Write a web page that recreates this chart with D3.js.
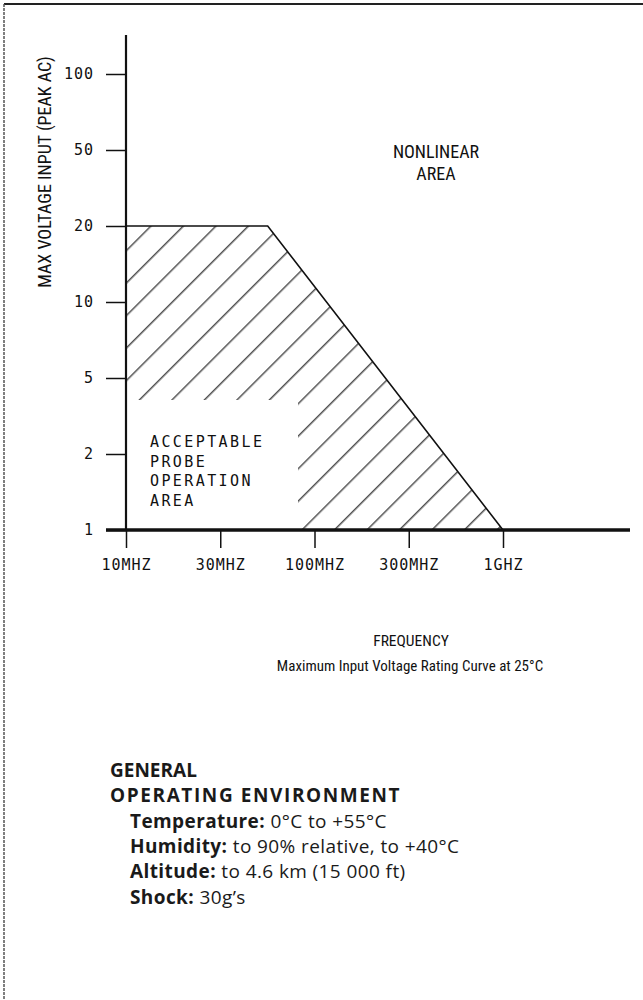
<!DOCTYPE html>
<html>
<head>
<meta charset="utf-8">
<script src="https://cdn.jsdelivr.net/npm/d3@7/dist/d3.min.js"></script>
<style>
  html, body { margin: 0; padding: 0; background: #fff; }
  svg { display: block; }
</style>
</head>
<body>
<svg id="chart" width="643" height="1000"></svg>
<script>
// ---------- data ----------
const freqTicks = [10, 30, 100, 300, 1000];                 // MHz
const freqLabels = ["10MHZ", "30MHZ", "100MHZ", "300MHZ", "1GHZ"];
const voltTicks = [1, 2, 5, 10, 20, 50, 100];
const voltLabels = ["1", "2", "5", "10", "20", "50", "100"];
const limitFreq = [10, 55, 1000];   // MHz
const limitVolt = [20, 20, 1];      // V peak AC
const yTitle = "MAX VOLTAGE INPUT (PEAK AC)";
const xTitle = "FREQUENCY";
const caption = "Maximum Input Voltage Rating Curve at 25\u00B0C";
const areaLabelUpper = ["NONLINEAR", "AREA"];
const areaLabelLower = ["ACCEPTABLE", "PROBE", "OPERATION", "AREA"];
const specHeads = ["GENERAL", "OPERATING ENVIRONMENT"];
const specKeys = ["Temperature:", "Humidity:", "Altitude:", "Shock:"];
const specVals = [" 0\u00B0C to +55\u00B0C", " to 90% relative, to +40\u00B0C", " to 4.6 km (15 000 ft)", " 30g\u2019s"];

// ---------- layout ----------
const svg = d3.select("#chart");
const X0 = 126, X1 = 503, Y0 = 530, Y1 = 74;
const plotFont = "'DejaVu Sans Mono', 'Liberation Mono', monospace";
const narrowFont = "'Liberation Sans Narrow', 'Roboto Condensed', 'Arial Narrow', sans-serif";
const specFont = "'Open Sans', Lato, 'Noto Sans', sans-serif";

// equally spaced decade-style ticks -> piecewise log scale
const xIdx = d3.scaleLinear().domain([0, freqTicks.length - 1]).range([X0, X1]);
const xLog = d3.scaleLinear().domain(freqTicks.map(Math.log10)).range(freqTicks.map((d, i) => xIdx(i)));
const x = v => xLog(Math.log10(v));
const yIdx = d3.scaleLinear().domain([0, voltTicks.length - 1]).range([Y0, Y1]);
const yLog = d3.scaleLinear().domain(voltTicks.map(Math.log10)).range(voltTicks.map((d, i) => yIdx(i)));
const y = v => yLog(Math.log10(v));

// page border (top + left)
svg.append("line").attr("x1", 4).attr("x2", 643).attr("y1", 4).attr("y2", 4)
  .attr("stroke", "#222").attr("stroke-width", 2);
svg.append("line").attr("x1", 4).attr("x2", 4).attr("y1", 4).attr("y2", 1000)
  .attr("stroke", "#555").attr("stroke-width", 1.5).attr("stroke-dasharray", "3,1");

// hatch pattern
const defs = svg.append("defs");
const pat = defs.append("pattern").attr("id", "hatch")
  .attr("patternUnits", "userSpaceOnUse").attr("width", 22.98).attr("height", 10)
  .attr("patternTransform", "rotate(45)");
pat.append("line").attr("x1", 13.8).attr("x2", 13.8).attr("y1", -1).attr("y2", 11)
  .attr("stroke", "#111").attr("stroke-width", 1.1);

const mask = defs.append("mask").attr("id", "labelHole");
mask.append("rect").attr("x", 0).attr("y", 0).attr("width", 643).attr("height", 1000).attr("fill", "#fff");
mask.append("rect").attr("x", x(10)).attr("y", 400).attr("width", 298 - x(10)).attr("height", Y0 - 400).attr("fill", "#000");

// acceptable area polygon
const areaPts = [[limitFreq[0], 1]].concat(limitFreq.map((f, i) => [f, limitVolt[i]]));
const poly = areaPts.map(d => [x(d[0]), y(d[1])]);
svg.append("path")
  .attr("d", d3.line()(poly) + "Z")
  .attr("fill", "url(#hatch)").attr("stroke", "none").attr("mask", "url(#labelHole)");

// limit curve
svg.append("path")
  .attr("d", d3.line().x(d => x(d[0])).y(d => y(d[1]))(limitFreq.map((f, i) => [f, limitVolt[i]])))
  .attr("fill", "none").attr("stroke", "#111").attr("stroke-width", 1.6);

// axes
const yAxis = d3.axisLeft(yLog)
  .tickValues(voltTicks.map(Math.log10))
  .tickFormat((d, i) => voltLabels[i])
  .tickSize(20).tickPadding(12);
const gy = svg.append("g").attr("transform", `translate(${X0},0)`).call(yAxis);
gy.select(".domain").remove();
gy.selectAll(".tick line").attr("stroke", "#111").attr("stroke-width", 1.5);
gy.selectAll(".tick text").attr("font-family", plotFont).attr("font-size", 15)
  .attr("letter-spacing", 1).attr("fill", "#111");

const xAxis = d3.axisBottom(xLog)
  .tickValues(freqTicks.map(Math.log10))
  .tickFormat((d, i) => freqLabels[i])
  .tickSize(18).tickPadding(11);
const gx = svg.append("g").attr("transform", `translate(0,${Y0})`).call(xAxis);
gx.select(".domain").remove();
gx.selectAll(".tick line").attr("stroke", "#111").attr("stroke-width", 1.5);
gx.selectAll(".tick text").attr("font-family", plotFont).attr("font-size", 15)
  .attr("letter-spacing", 1).attr("fill", "#111");

// axis lines
svg.append("line").attr("x1", X0).attr("x2", X0).attr("y1", 35).attr("y2", Y0)
  .attr("stroke", "#111").attr("stroke-width", 2.2);
svg.append("line").attr("x1", 106).attr("x2", 630).attr("y1", Y0).attr("y2", Y0)
  .attr("stroke", "#111").attr("stroke-width", 3.5);

// y title
svg.append("text")
  .attr("transform", "translate(51,172) rotate(-90)")
  .attr("text-anchor", "middle")
  .attr("font-family", narrowFont).attr("font-size", 18).attr("fill", "#111")
  .text(yTitle);

// area labels
const up = svg.append("text").attr("font-family", narrowFont).attr("font-size", 18)
  .attr("fill", "#111").attr("text-anchor", "middle");
areaLabelUpper.forEach((t, i) => up.append("tspan").attr("x", 436).attr("y", 158 + i * 22).text(t));

const low = svg.append("text").attr("font-family", plotFont).attr("font-size", 15)
  .attr("letter-spacing", 2.4).attr("fill", "#111");
areaLabelLower.forEach((t, i) => low.append("tspan").attr("x", 150).attr("y", 447 + i * 19.5).text(t));

// x title & caption
svg.append("text").attr("x", 411).attr("y", 646).attr("text-anchor", "middle")
  .attr("font-family", narrowFont).attr("font-size", 15.5).attr("fill", "#111").text(xTitle);
svg.append("text").attr("x", 410).attr("y", 671).attr("text-anchor", "middle")
  .attr("font-family", narrowFont).attr("font-size", 15).attr("fill", "#111").text(caption);

// spec block
specHeads.forEach((t, i) => {
  svg.append("text").attr("x", 110).attr("y", 777 + i * 25)
    .attr("font-family", specFont).attr("font-weight", 700)
    .attr("font-size", 19).attr("letter-spacing", i === 0 ? 0 : 1.6)
    .attr("fill", "#1a1a1a").text(t);
});
specKeys.forEach((k, i) => {
  const t = svg.append("text").attr("x", 130).attr("y", 828 + i * 25.2)
    .attr("font-family", specFont).attr("font-size", 19).attr("letter-spacing", 0.4)
    .attr("fill", "#1a1a1a");
  t.append("tspan").attr("font-weight", 700).text(k);
  t.append("tspan").text(specVals[i]);
});
</script>
</body>
</html>
